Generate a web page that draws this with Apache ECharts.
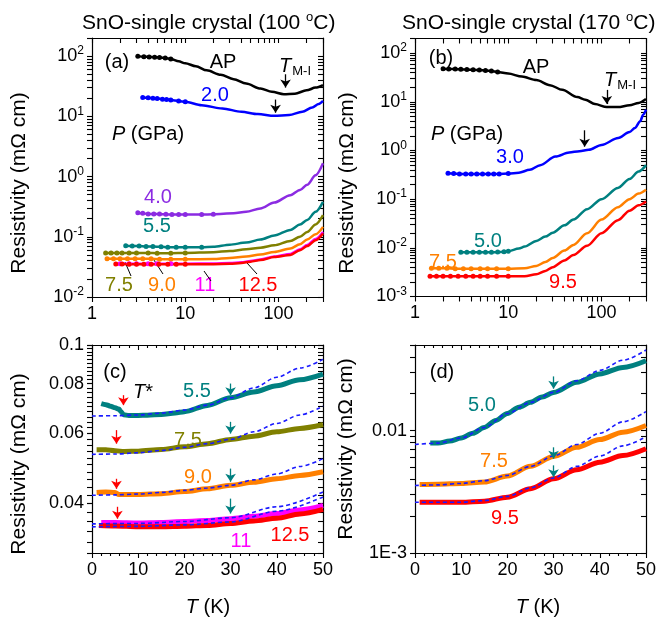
<!DOCTYPE html>
<html>
<head>
<meta charset="UTF-8">
<title>SnO resistivity</title>
<script src="https://cdn.jsdelivr.net/npm/echarts@6.0.0/dist/echarts.min.js"></script>
<style>
  * { padding: 0; margin: 0; }
  body { background: #fff; }
  #box { width: 659px; height: 625px; }
</style>
</head>
<body>
<div id="box"></div>
<script>
// ---- (a) SnO single crystal 100 C, [T (K), rho (mOhm cm)]
var a_AP = [[3.1,100],[3.6,98],[4.1,97],[4.7,96],[5.3,95],[6.1,93],[7,90],[8.5,82],[10,76],[13,68],[17,58],[24,49],[33,41.5],[45,35],[64,29],[85,25.5],[114,23.3],[150,23.8],[200,27],[250,30],[300,33]]
var a_20 = [[3.5,20.6],[4,20.3],[4.5,20],[5,19.8],[5.7,19.3],[6.3,19],[7,18.6],[8.5,18],[10,17.4],[15,15.3],[25,13.5],[40,11.9],[60,10.9],[90,10.2],[130,10.5],[180,11.9],[230,14],[270,16],[300,18]]
var a_40 = [[3.1,0.25],[3.5,0.245],[4,0.24],[4.6,0.24],[5.3,0.238],[6.2,0.236],[7.2,0.235],[8.5,0.235],[10,0.234],[15,0.234],[20,0.236],[33,0.245],[45,0.26],[64,0.295],[90,0.37],[134,0.49],[170,0.6],[203,0.73],[250,1.05],[300,1.66]]
var a_55 = [[2.3,0.071],[2.7,0.07],[3.2,0.07],[3.8,0.069],[4.5,0.069],[5.5,0.068],[6.5,0.067],[8,0.067],[10,0.067],[15,0.067],[20,0.068],[30,0.074],[45,0.08],[64,0.09],[90,0.105],[134,0.13],[170,0.16],[203,0.19],[250,0.26],[300,0.38]]
var a_75 = [[1.4,0.054],[1.6,0.054],[1.85,0.054],[2.1,0.054],[2.5,0.054],[3,0.054],[4,0.054],[5,0.0535],[7,0.0535],[10,0.054],[20,0.0555],[30,0.058],[45,0.062],[64,0.066],[90,0.072],[134,0.085],[170,0.1],[203,0.12],[250,0.16],[300,0.228]]
var a_90 = [[1.45,0.043],[1.7,0.043],[2,0.043],[2.4,0.043],[2.9,0.043],[3.5,0.043],[4.3,0.043],[5.3,0.0425],[7,0.0422],[10,0.0422],[20,0.0427],[30,0.0444],[45,0.047],[64,0.051],[90,0.056],[134,0.064],[170,0.075],[203,0.09],[250,0.11],[300,0.146]]
var a_11 = [[2,0.0357],[2.5,0.0357],[3,0.0356],[4,0.0356],[5,0.0356],[7,0.0356],[10,0.0357],[20,0.036],[30,0.0366],[40,0.0377],[50,0.0395],[64,0.042],[90,0.047],[134,0.052],[170,0.062],[203,0.073],[250,0.092],[300,0.12]]
var a_125 = [[1.8,0.0352],[2.1,0.0352],[2.5,0.0351],[3,0.035],[3.6,0.035],[4.3,0.035],[5.2,0.035],[6.5,0.0349],[8,0.0349],[10,0.0349],[15,0.035],[20,0.0351],[30,0.0355],[40,0.0368],[50,0.0386],[64,0.041],[90,0.046],[134,0.05],[170,0.06],[203,0.07],[250,0.088],[300,0.1135]]

// ---- (b) SnO single crystal 170 C
var b_AP = [[2,48],[2.3,47.5],[2.7,47],[3.1,46.5],[3.6,46],[4.2,45.5],[4.9,45],[5.7,44],[6.6,43],[7.7,41],[10,38],[14,33],[20,28],[28,22],[38,17.6],[55,12.5],[67,11],[85,9],[114,7.8],[150,7.8],[200,8.5],[250,9.5],[300,11.4]]
var b_30 = [[2.26,0.34],[2.6,0.335],[3,0.33],[3.5,0.33],[4,0.33],[4.6,0.33],[5.3,0.33],[6.1,0.33],[7,0.33],[8,0.33],[10,0.335],[13,0.35],[17,0.4],[22,0.5],[32,0.75],[45,0.91],[58,0.97],[73,1.03],[100,1.3],[151,1.8],[200,2.4],[228,2.9],[260,4],[280,5.4],[300,6.9]]
var b_50 = [[3.1,0.0081],[3.6,0.0081],[4.2,0.0081],[4.9,0.0081],[5.7,0.0081],[6.6,0.0081],[7.7,0.0082],[9,0.0083],[10,0.0085],[13,0.0097],[15,0.0106],[20,0.0138],[25,0.017],[30,0.0205],[40,0.029],[50,0.038],[70,0.062],[100,0.1],[150,0.17],[200,0.26],[250,0.37],[300,0.5]]
var b_75 = [[1.5,0.0038],[1.8,0.0038],[2.2,0.0038],[2.7,0.0037],[3.3,0.0037],[4,0.0037],[5,0.0037],[6,0.0037],[7.5,0.0037],[10,0.0037],[15,0.0038],[20,0.00425],[25,0.0051],[30,0.0062],[40,0.0088],[50,0.0115],[70,0.02],[100,0.038],[150,0.068],[200,0.1],[250,0.13],[300,0.156]]
var b_95 = [[1.45,0.0026],[1.7,0.0026],[2,0.0026],[2.4,0.0026],[2.9,0.0026],[3.5,0.0026],[4.2,0.0026],[5,0.0026],[6,0.0026],[7.5,0.0026],[10,0.0026],[15,0.0026],[20,0.00286],[25,0.00335],[30,0.004],[40,0.0055],[50,0.0071],[70,0.011],[100,0.02],[150,0.037],[200,0.058],[250,0.075],[300,0.09]]

// ---- (c) low-T detail, 100 C crystal, data and fits
var c_55 = [[2,0.0712],[3,0.0708],[4,0.0702],[5,0.0695],[5.8,0.069],[6.3,0.068],[6.8,0.0668],[8,0.0665],[10,0.0665],[12,0.0666],[15,0.0669],[18,0.0675],[20,0.068],[25,0.0705],[30,0.0737],[35,0.0762],[40,0.079],[45,0.0818],[50,0.0845]]
var c_75 = [[1,0.0545],[3,0.0545],[5,0.0542],[7,0.054],[10,0.0541],[15,0.0546],[20,0.0555],[25,0.0565],[30,0.0579],[35,0.059],[40,0.0605],[45,0.0617],[50,0.0631]]
var c_90 = [[1,0.0426],[3,0.0427],[5,0.0426],[5.8,0.0421],[8,0.0421],[10,0.0421],[15,0.0423],[20,0.0428],[25,0.0435],[30,0.0444],[35,0.0452],[40,0.0461],[45,0.047],[50,0.048]]
var c_11 = [[2,0.0358],[5,0.0358],[10,0.0357],[15,0.0358],[20,0.036],[25,0.0362],[30,0.0366],[35,0.0371],[40,0.0377],[45,0.0385],[50,0.0395]]
var c_125 = [[1.5,0.0352],[5,0.0351],[10,0.0349],[15,0.0349],[20,0.035],[25,0.0352],[30,0.0356],[35,0.0361],[40,0.0367],[45,0.0376],[50,0.0386]]
var cf_55 = [[0,0.0663],[5,0.0664],[10,0.0667],[15,0.0674],[20,0.0686],[25,0.0706],[30,0.0737],[35,0.078],[40,0.083],[45,0.0875],[50,0.092]]
var cf_75 = [[0,0.0531],[5,0.0532],[10,0.0536],[15,0.0543],[20,0.0553],[25,0.0565],[30,0.0579],[35,0.0605],[40,0.0635],[45,0.0667],[50,0.0702]]
var cf_90 = [[0,0.0419],[5,0.042],[10,0.0422],[15,0.0426],[20,0.0431],[25,0.0437],[30,0.0444],[35,0.0458],[40,0.0474],[45,0.0495],[50,0.0518]]
var cf_11 = [[0,0.0355],[10,0.0356],[20,0.036],[30,0.0368],[40,0.0392],[50,0.0427]]
var cf_125 = [[0,0.0349],[10,0.035],[20,0.0353],[30,0.0359],[40,0.0382],[50,0.0415]]

// ---- (d) low-T detail, 170 C crystal
var d_50 = [[3.3,0.0079],[5,0.0079],[7.5,0.0082],[10,0.0087],[12.5,0.0095],[15,0.0106],[17.5,0.0121],[20,0.0138],[22.5,0.0155],[25,0.017],[27.5,0.0188],[30,0.0205],[35,0.0248],[40,0.029],[45,0.0328],[50,0.0372]]
var d_75 = [[1,0.00363],[5,0.00365],[10,0.0037],[15,0.0038],[20,0.00425],[25,0.0051],[30,0.00614],[35,0.0073],[40,0.00845],[45,0.0097],[50,0.011]]
var d_95 = [[1,0.0026],[5,0.0026],[10,0.0026],[15,0.00265],[20,0.00286],[25,0.00335],[30,0.00404],[35,0.00479],[40,0.00552],[45,0.00625],[50,0.0071]]
var df_50 = [[0,0.0077],[5,0.0079],[10,0.0087],[15,0.0106],[20,0.0138],[25,0.017],[30,0.0205],[35,0.0255],[40,0.031],[45,0.0375],[50,0.0455]]
var df_75 = [[0,0.00356],[5,0.0036],[10,0.0037],[15,0.0039],[20,0.0043],[25,0.0051],[30,0.0062],[35,0.0077],[40,0.0095],[45,0.0118],[50,0.0143]]
var df_95 = [[0,0.0026],[5,0.0026],[10,0.0026],[15,0.00268],[20,0.0029],[25,0.0034],[30,0.0041],[35,0.0051],[40,0.0062],[45,0.0075],[50,0.0089]]

// ---- tick values / labels
var abXTicks = [1, 10, 100]
var aYTicks = [0.01, 0.1, 1, 10, 100]
var bYTicks = [0.001, 0.01, 0.1, 1, 10, 100]
var cYTicks = [0.04, 0.06, 0.08, 0.1]
var dYTicks = [0.001, 0.01]
var dYLabels = ['1E-3', '0.01']

var FONT = 'Liberation Sans'
var BLUE = '#0000ff', TEAL = '#008080', OLIVE = '#808000', ORANGE = '#ff8000',
    MAGENTA = '#ff00ff', RED = '#ff0000', PURPLE = '#8b2be2', FIT = '#1a1aff'

// 2..9 x 10^k between lo and hi (minor ticks of the log axes)
function logMinor(lo, hi) {
  var out = []
  for (var e = -4; e <= 3; e++) {
    for (var m = 2; m <= 9; m++) {
      var v = +(m * Math.pow(10, e)).toPrecision(3)
      if (v >= lo && v <= hi) out.push(v)
    }
  }
  return out
}
function cMinor() {
  var out = []
  for (var k = 30; k <= 100; k += 2) out.push(k / 1000)
  return out
}

function supRich() {
  return {
    b: { fontSize: 18, fontFamily: FONT, color: '#000', lineHeight: 22 },
    s: { fontSize: 12, fontFamily: FONT, color: '#000', verticalAlign: 'top', lineHeight: 12 }
  }
}
function powFmt(v) { return '{b|10}{s|' + Math.round(Math.log10(v)) + '}' }

function ax(grid, type, min, max, pos, o) {
  var a = {
    gridIndex: grid, type: type, min: min, max: max, position: pos,
    axisLine: { show: true, onZero: false, lineStyle: { color: '#000', width: 1.2 } },
    axisTick: { show: true, inside: !!o.inside, length: 5, lineStyle: { color: '#000', width: 1.1 } },
    axisLabel: { show: false },
    splitLine: { show: false }
  }
  if (o.ticks) a.axisTick.customValues = o.ticks.slice()
  if (o.interval) a.interval = o.interval
  if (o.minor) a.minorTick = { show: true, splitNumber: 5, length: 3, lineStyle: { color: '#000', width: 1.1 } }
  if (o.labels) {
    a.axisLabel = { show: true, customValues: o.labels.slice(), formatter: o.fmt, margin: 8,
      color: '#000', fontSize: 18, fontFamily: FONT, rich: supRich() }
  } else if (o.linLabels) {
    a.axisLabel = { show: true, margin: 8, color: '#000', fontSize: 18, fontFamily: FONT }
  }
  return a
}

// x: 0,1 (a) | 2,3 (b) | 4,5 (c) | 6,7 (d);  y: 0,1 (a) | 2,3 (b) | 4,5 (c) | 6,7 (d)
function buildAxes() {
  var xs = [], ys = []
  ;[0, 1].forEach(function (g) {
    xs.push(ax(g, 'log', 1, 300, 'bottom', { ticks: abXTicks.concat(logMinor(1, 300)), labels: abXTicks, fmt: function (v) { return String(Math.round(v)) } }))
    xs.push(ax(g, 'log', 1, 300, 'top', { ticks: abXTicks.concat(logMinor(1, 300)), inside: true }))
  })
  ;[2, 3].forEach(function (g) {
    xs.push(ax(g, 'value', 0, 50, 'bottom', { interval: 10, minor: true, linLabels: true }))
    xs.push(ax(g, 'value', 0, 50, 'top', { interval: 10, minor: true, inside: true }))
  })
  function yPair(g, min, max, major, minor, fmt) {
    ys.push(ax(g, 'log', min, max, 'left', { ticks: major.concat(minor), labels: major, fmt: fmt }))
    ys.push(ax(g, 'log', min, max, 'right', { ticks: major.concat(minor), inside: true }))
  }
  yPair(0, 0.01, 200, aYTicks, logMinor(0.01, 200), powFmt)
  yPair(1, 0.001, 200, bYTicks, logMinor(0.001, 200), powFmt)
  yPair(2, 0.03, 0.1, cYTicks, cMinor(), function (v) { return '{b|' + (+v.toPrecision(2)) + '}' })
  yPair(3, 0.001, 0.05, dYTicks, logMinor(0.001, 0.05), function (v) { return '{b|' + dYLabels[v < 0.005 ? 0 : 1] + '}' })
  return { x: xs, y: ys }
}

function line(g, data, color, width, symMaxT) {
  return {
    type: 'line', xAxisIndex: 2 * g, yAxisIndex: 2 * g, data: data, smooth: 0.3, smoothMonotone: 'x',
    symbol: 'circle', showSymbol: !!symMaxT,
    symbolSize: function (v) { return symMaxT && v[0] <= symMaxT ? 5 : 0 },
    lineStyle: { color: color, width: width }, itemStyle: { color: color },
    silent: true, animation: false
  }
}
function fit(g, data) {
  return {
    type: 'line', xAxisIndex: 2 * g, yAxisIndex: 2 * g, data: data, smooth: 0.3, smoothMonotone: 'x',
    showSymbol: false, symbol: 'none',
    lineStyle: { color: FIT, width: 1.6, type: [4, 3] }, silent: true, animation: false
  }
}
function arrows(list, color) {
  return {
    silent: true, animation: false, symbol: ['none', 'arrow'], symbolSize: 8,
    label: { show: false }, lineStyle: { color: color, width: 1.3, type: 'solid' },
    data: list.map(function (p) { return [{ coord: [p[0], p[1]] }, { coord: [p[0], p[2]] }] })
  }
}

var sAP = line(0, a_AP, '#000', 2.5, 8)
sAP.markLine = arrows([[119, 50, 30], [93, 19, 11.5]], '#000')
var sbAP = line(1, b_AP, '#000', 2.5, 8)
sbAP.markLine = arrows([[114, 17.6, 9], [66, 2.6, 1.2]], '#000')
var sc55 = line(2, c_55, TEAL, 5)
sc55.markLine = arrows([[30, 0.080, 0.0748], [30, 0.0641, 0.0599], [30, 0.0489, 0.0453], [30, 0.0411, 0.0377]], TEAL)
var sc125 = line(2, c_125, RED, 5)
sc125.markLine = arrows([[6.8, 0.0748, 0.0706], [5.3, 0.0611, 0.0565], [5.3, 0.0461, 0.0435], [5.5, 0.0392, 0.0366]], RED)
var sd50 = line(3, d_50, TEAL, 5)
sd50.markLine = arrows([[30, 0.0277, 0.022], [30, 0.0073, 0.0059], [30, 0.0052, 0.00416]], TEAL)

var series = [
  sAP, line(0, a_20, BLUE, 2.5, 12), line(0, a_40, PURPLE, 2.5, 20), line(0, a_55, TEAL, 2.5, 15),
  line(0, a_75, OLIVE, 2.5, 12), line(0, a_90, ORANGE, 2.5, 12), line(0, a_11, MAGENTA, 2.5, 8),
  line(0, a_125, RED, 2.5, 10),
  sbAP, line(1, b_30, BLUE, 2.5, 10), line(1, b_50, TEAL, 2.5, 10), line(1, b_75, ORANGE, 2.5, 10),
  line(1, b_95, RED, 2.5, 12),
  sc55, line(2, c_75, OLIVE, 5), line(2, c_90, ORANGE, 5), line(2, c_11, MAGENTA, 5), sc125,
  fit(2, cf_55), fit(2, cf_75), fit(2, cf_90), fit(2, cf_11), fit(2, cf_125),
  sd50, line(3, d_75, ORANGE, 5), line(3, d_95, RED, 5),
  fit(3, df_50), fit(3, df_75), fit(3, df_95)
]

// ---- annotations
function txt(x, y, s, color, size, extra) {
  var st = { text: s, fill: color || '#000', fontSize: size || 20, fontFamily: FONT, align: 'center', verticalAlign: 'middle' }
  if (extra) for (var key in extra) st[key] = extra[key]
  return { type: 'text', x: x, y: y, silent: true, style: st }
}
function rich(x, y, s, r, align, size) {
  return txt(x, y, s, '#000', size || 20, { rich: r, align: align || 'center' })
}
function lead(x1, y1, x2, y2) {
  return { type: 'line', silent: true, shape: { x1: x1, y1: y1, x2: x2, y2: y2 }, style: { stroke: '#000', lineWidth: 1 } }
}
var itRich = {
  i: { fontSize: 20, fontFamily: FONT, fontStyle: 'italic', fill: '#000' },
  n: { fontSize: 20, fontFamily: FONT, fill: '#000' },
  sub: { fontSize: 13, fontFamily: FONT, fill: '#000', verticalAlign: 'bottom', padding: [10, 0, 0, 1] }
}
var titleRich = {
  a: { fontSize: 21, fontFamily: FONT, fill: '#000', lineHeight: 24 },
  s: { fontSize: 13, fontFamily: FONT, fill: '#000', verticalAlign: 'top', lineHeight: 13 }
}
var YNAME = 'Resistivity (m\u03a9 cm)'

var graphics = [
  rich(82, 23, '{a|SnO-single crystal (100 }{s|o}{a|C)}', titleRich, 'left'),
  rich(402, 23, '{a|SnO-single crystal (170 }{s|o}{a|C)}', titleRich, 'left'),
  txt(19, 183, YNAME, '#000', 21), txt(347, 183, YNAME, '#000', 21),
  txt(19, 464, YNAME, '#000', 21), txt(346, 449, YNAME, '#000', 21),
  rich(208, 607, '{i|T}{n| (K)}', itRich), rich(538, 607, '{i|T}{n| (K)}', itRich),
  txt(117, 62, '(a)'), txt(223, 62, 'AP'),
  rich(279, 66, '{i|T}{sub|M-I}', itRich, 'left'),
  txt(215, 95, '2.0', BLUE), rich(148, 134, '{i|P}{n| (GPa)}', itRich),
  txt(158, 197, '4.0', PURPLE), txt(157, 226, '5.5', TEAL),
  txt(119, 285, '7.5', OLIVE), txt(162, 285, '9.0', ORANGE), txt(205, 285, '11', MAGENTA), txt(258, 285, '12.5', RED),
  lead(125, 262, 131, 276), lead(152, 257, 163, 274), lead(204, 271, 211, 281), lead(247, 263, 257, 274),
  txt(441, 58, '(b)'), txt(536, 67, 'AP'),
  rich(604, 80, '{i|T}{sub|M-I}', itRich, 'left'),
  rich(467, 134, '{i|P}{n| (GPa)}', itRich),
  txt(510, 157, '3.0', BLUE), txt(488, 241, '5.0', TEAL), txt(443, 262, '7.5', ORANGE), txt(563, 282, '9.5', RED),
  txt(115, 372, '(c)'), rich(143, 392, '{i|T}{n|*}', itRich),
  txt(197, 391, '5.5', TEAL), txt(188, 440, '7.5', OLIVE), txt(198, 477, '9.0', ORANGE),
  txt(241, 541, '11', MAGENTA), txt(290, 535, '12.5', RED),
  txt(442, 372, '(d)'), txt(482, 405, '5.0', TEAL), txt(494, 461, '7.5', ORANGE), txt(505, 518, '9.5', RED)
]
;[2, 3, 4, 5].forEach(function (i) { graphics[i].rotation = Math.PI / 2 })

var axes = buildAxes()
var mCharts = echarts.init(document.getElementById('box'))
mCharts.setOption({
  animation: false,
  grid: [
    { left: 92, top: 38, width: 231, height: 259 },
    { left: 415, top: 38.5, width: 231, height: 258 },
    { left: 92, top: 345, width: 231, height: 208 },
    { left: 415, top: 345, width: 231, height: 208 }
  ],
  xAxis: axes.x,
  yAxis: axes.y,
  series: series,
  graphic: graphics
})
// re-apply fresh axis options once the first frame is out
setTimeout(function () {
  var again = buildAxes()
  mCharts.setOption({ xAxis: again.x, yAxis: again.y })
}, 30)
</script>
</body>
</html>
